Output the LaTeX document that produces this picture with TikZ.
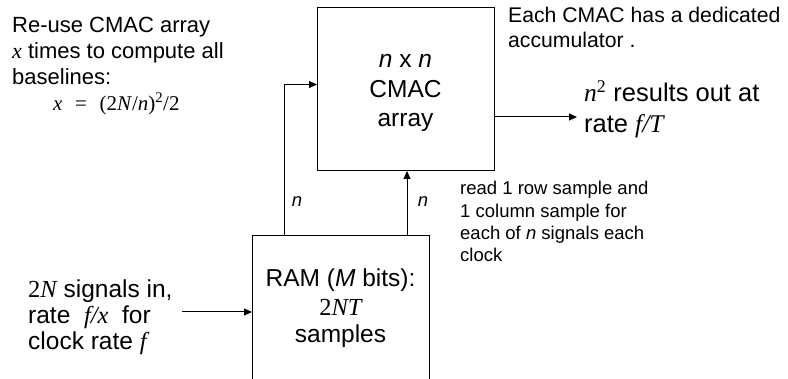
\documentclass[tikz,border=0pt]{standalone}
\usepackage{fontspec}
\setmainfont{Liberation Sans}
\newfontfamily\tms{Liberation Serif}
\usetikzlibrary{arrows.meta}

% Times-style variables inside the Arial-style text
\newcommand{\tv}[1]{{\tms\itshape #1}}
\newcommand{\tr}[1]{{\tms #1}}

\tikzset{
  box/.style={draw, line width=1pt, minimum width=177pt, inner sep=0pt, anchor=north west},
  arr/.style={line width=1pt, -{Triangle[length=8pt,width=7pt]}},
  txt/.style={inner sep=0pt, anchor=base west},
  ctxt/.style={inner sep=0pt, anchor=base},
  fa/.style={font=\fontsize{22}{26}\selectfont},
  ft/.style={font=\fontsize{21.2}{25}\selectfont},
  fb/.style={font=\fontsize{24.5}{28}\selectfont},
  fc/.style={font=\fontsize{25.5}{31}\selectfont},
  fd/.style={font=\fontsize{18.5}{22}\selectfont},
}

\begin{document}
\begin{tikzpicture}[x=1pt, y=-1pt]
\useasboundingbox (0,0) rectangle (788,379);
\clip (0,0) rectangle (788,379);

% blocks
\node[box, minimum height=163pt] (cmac) at (317,7) {};
\node[box, minimum height=180pt] (ram) at (252,235) {};

% text inside the CMAC array
\node[ctxt, fb] (c1) at (405.5,68) {\textit{n} x \textit{n}};
\node[ctxt, fb] (c2) at (405.5,98) {CMAC};
\node[ctxt, fb] (c3) at (405.5,127) {array};

% text inside the RAM
\node[ctxt, fb] (r1) at (340.5,286.5) {RAM (\textit{M} bits):};
\node[ctxt, fb] (r2) at (340.5,316) {\tr{2}\tv{NT}};
\node[ctxt, fb] (r3) at (340.5,343) {samples};

% connectors
\draw[arr] ([xshift=32pt]ram.north west) |- ([yshift=4.5pt]cmac.west);
\draw[arr] ([xshift=1pt]ram.north -| cmac.south) -- ([xshift=1pt]cmac.south);
\coordinate (outEnd) at (577,117);
\draw[arr] (cmac.east |- outEnd) -- (outEnd);
\coordinate (inStart) at (182,312);
\draw[arr] (inStart) -- (inStart -| ram.west);

% bus widths
\node[ctxt, fd] (n1) at (297,207) {\textit{n}};
\node[ctxt, fd] (n2) at (423,207) {\textit{n}};

% notes, upper left
\node[txt, fa] (a1) at (12,33) {Re-use CMAC array};
\node[txt, fa] (a2) at (12,59) {\tv{x} times to compute all};
\node[txt, fa] (a3) at (12,85) {baselines:};
\node[txt, font=\fontsize{21}{25}\selectfont\tms] (a4) at (53,110.5)
  {\textit{x}\hspace{0.6em}=\hspace{0.6em}(2\textit{N}/\textit{n})\textsuperscript{2}/2};

% notes, upper right
\node[txt, ft] (b1) at (508,22.5) {Each CMAC has a dedicated};
\node[txt, ft] (b2) at (508,48) {accumulator .};
\node[txt, fc] (o1) at (584,101.5) {\tv{n}\textsuperscript{\tr{2}} results out at};
\node[txt, fc] (o2) at (584,133) {rate \tv{f/T}};

% notes, lower right
\node[txt, fd] (d1) at (460,195) {read 1 row sample and};
\node[txt, fd] (d2) at (460,217.5) {1 column sample for};
\node[txt, fd] (d3) at (460,239.5) {each of \textit{n} signals each};
\node[txt, fd] (d4) at (460,261.5) {clock};

% notes, lower left
\node[txt, fb] (e1) at (28,298) {\tr{2}\tv{N} signals in,};
\node[txt, fb] (e2) at (28,324) {rate \ \tv{f/x} \ for};
\node[txt, fb] (e3) at (28,350) {clock rate \tv{f}};
\end{tikzpicture}
\end{document}
